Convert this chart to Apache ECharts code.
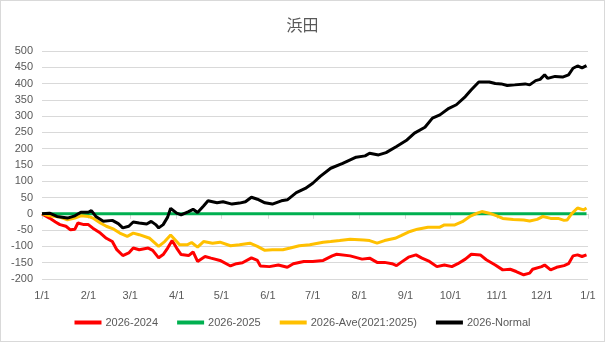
<!DOCTYPE html>
<html><head><meta charset="utf-8">
<script src="https://cdn.jsdelivr.net/npm/echarts@6/dist/echarts.min.js"></script>
<style>html,body{margin:0;padding:0;background:#fff}#c{width:603px;height:340px;border:1px solid #d9d9d9}</style>
</head><body><div id="c"></div>
<script>
const title = '浜田';
const seriesNames = ['2026-2024','2026-2025','2026-Ave(2021:2025)','2026-Normal'];
const monthStartDays = [0,31,59,90,120,151,181,212,243,273,304,334,365];
const monthLabels = ['1/1','2/1','3/1','4/1','5/1','6/1','7/1','8/1','9/1','10/1','11/1','12/1','1/1'];
const yTicks = [-200,-150,-100,-50,0,50,100,150,200,250,300,350,400,450,500];

const red = [[0,0],[5,-13],[9,-25],[12,-33],[16,-38],[19,-49],[22,-47],[24,-28],[28,-33],[31,-33],[34,-44],[39,-59],[43,-75],[47,-85],[50,-110],[54,-128],[58,-120],[61,-105],[65,-110],[71,-105],[74,-112],[78,-135],[81,-125],[84,-105],[87,-82],[90,-105],[93,-125],[98,-128],[101,-117],[104,-146],[109,-131],[113,-136],[119,-143],[126,-160],[130,-153],[134,-150],[140,-135],[144,-143],[146,-160],[152,-162],[158,-157],[164,-164],[168,-153],[175,-146],[181,-146],[188,-143],[194,-129],[197,-124],[206,-129],[214,-139],[219,-136],[224,-149],[229,-149],[234,-153],[237,-159],[240,-149],[245,-133],[250,-126],[254,-136],[259,-146],[264,-162],[269,-157],[274,-162],[278,-153],[283,-139],[287,-124],[293,-126],[297,-141],[303,-157],[308,-172],[313,-170],[317,-177],[322,-187],[326,-182],[328,-170],[334,-162],[336,-157],[340,-172],[344,-164],[349,-159],[352,-153],[355,-129],[358,-126],[361,-131],[364,-126]];
const green = [[0,0],[364,0]];
const yellow = [[0,0],[5,-6],[12,-10],[17,-18],[22,-13],[26,-6],[31,-8],[34,-13],[39,-28],[43,-38],[48,-47],[52,-59],[57,-69],[61,-59],[65,-64],[72,-75],[78,-100],[82,-85],[86,-65],[92,-95],[97,-95],[100,-88],[104,-102],[108,-85],[114,-90],[119,-87],[126,-98],[132,-95],[139,-90],[144,-100],[149,-112],[154,-110],[161,-110],[166,-105],[172,-98],[179,-95],[188,-87],[193,-85],[199,-82],[206,-78],[215,-80],[219,-82],[224,-90],[229,-82],[236,-75],[240,-67],[246,-54],[251,-47],[258,-41],[266,-41],[269,-34],[276,-34],[281,-24],[286,-8],[291,2],[294,7],[299,2],[304,-6],[308,-14],[315,-17],[322,-19],[326,-22],[331,-17],[335,-8],[340,-14],[345,-14],[349,-20],[351,-19],[354,0],[358,18],[362,12],[364,18]];
const black = [[0,0],[5,2],[10,-8],[17,-13],[22,-6],[26,5],[31,5],[33,10],[36,-8],[41,-23],[47,-20],[51,-30],[54,-43],[58,-38],[61,-25],[65,-28],[70,-31],[73,-23],[76,-33],[78,-43],[81,-33],[84,-10],[86,17],[90,2],[93,-3],[98,7],[101,14],[104,4],[108,24],[111,40],[117,34],[121,37],[127,30],[132,33],[136,37],[140,51],[144,45],[149,34],[154,30],[160,40],[164,43],[170,65],[176,78],[181,94],[186,115],[193,140],[201,155],[210,174],[216,178],[219,186],[225,181],[230,188],[237,207],[244,227],[249,248],[256,266],[261,294],[266,304],[272,324],[277,335],[283,360],[287,381],[292,405],[299,405],[303,400],[307,399],[311,394],[316,396],[323,399],[326,396],[330,409],[333,413],[336,427],[338,416],[343,422],[348,420],[352,427],[355,447],[358,454],[361,448],[364,455]];

const colors = ['#ff0000','#00b050','#ffc000','#000000'];
const datasets = [red, green, yellow, black];
const font = 'Liberation Sans';

const chart = echarts.init(document.getElementById('c'), null, {renderer:'canvas'});
chart.setOption({
  animation:false,
  title:{text:title,left:'center',top:11,textStyle:{fontFamily:'Noto Sans CJK JP',fontSize:16,fontWeight:'normal',color:'#595959'}},
  grid:{left:41,right:16,top:50,bottom:62,containLabel:false},
  legend:{bottom:8,left:'center',itemWidth:27,itemHeight:4,itemGap:19,icon:'rect',
    textStyle:{fontFamily:font,fontSize:11,color:'#595959',padding:[0,0,0,-1]},
    data:seriesNames},
  xAxis:{type:'value',min:0,max:365,
    axisLine:{show:true,lineStyle:{color:'#d9d9d9',width:1}},
    axisTick:{show:true,length:5,lineStyle:{color:'#d9d9d9'},customValues:monthStartDays},
    axisLabel:{customValues:monthStartDays,fontFamily:font,fontSize:11,color:'#595959',margin:11,
      formatter:function(v){const i=monthStartDays.indexOf(v);return i>=0?monthLabels[i]:'';}},
    splitLine:{show:false}},
  yAxis:{type:'value',min:yTicks[0],max:yTicks[yTicks.length-1],interval:50,
    axisLine:{show:false},axisTick:{show:false},
    axisLabel:{fontFamily:font,fontSize:11,color:'#595959',margin:9},
    splitLine:{lineStyle:{color:'#d9d9d9',width:1}}},
  series: seriesNames.map((n,i)=>({name:n,type:'line',data:datasets[i],showSymbol:false,symbol:'none',
    lineStyle:{color:colors[i],width:3},itemStyle:{color:colors[i]}}))
});
</script></body></html>
